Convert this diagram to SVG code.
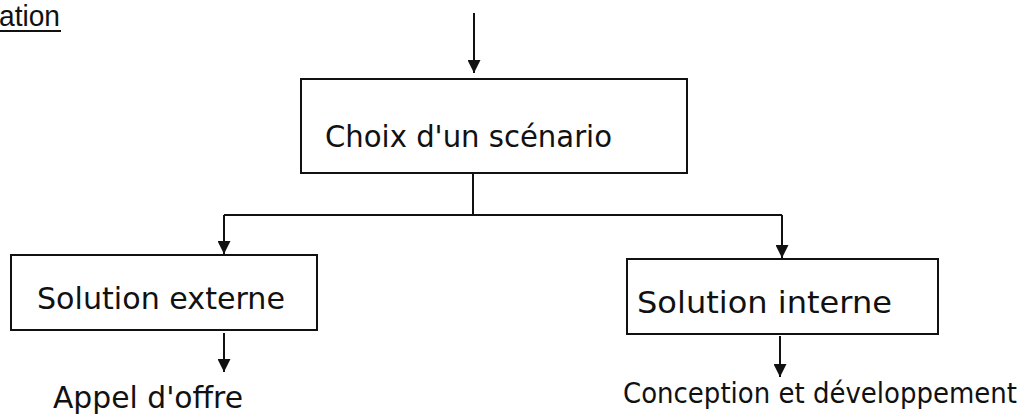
<svg xmlns="http://www.w3.org/2000/svg" width="1025" height="419" viewBox="0 0 1025 419">
<defs>
<style>
.box{fill:#fff;stroke:#111;stroke-width:2}
.lbl{font-family:"Comic Sans MS","DejaVu Sans","Noto Sans",sans-serif;font-size:30px;fill:#111}
.cond{font-family:"DejaVu Sans Condensed","DejaVu Sans",sans-serif;font-stretch:condensed;font-size:28px}
.conn{fill:none;stroke:#111;stroke-width:2}
.title{font-family:"Liberation Sans",Arial,sans-serif;font-size:29px;fill:#111}
</style>
<marker id="arr" viewBox="0 0 12 12" refX="12" refY="6" markerWidth="13" markerHeight="13" markerUnits="userSpaceOnUse" orient="auto">
<path d="M0,0 L12,6 L0,12 Z" fill="#111"/>
</marker>
</defs>
<rect width="1025" height="419" fill="#fff"/>
<g id="title">
<text class="title" x="-1" y="26" textLength="61" lengthAdjust="spacingAndGlyphs">ation</text>
<line x1="0" y1="31" x2="61" y2="31" stroke="#111" stroke-width="2"/>
</g>
<g id="connectors">
<line class="conn" x1="474" y1="13" x2="474" y2="73" marker-end="url(#arr)"/>
<line class="conn" x1="473" y1="174" x2="473" y2="215"/>
<path class="conn" d="M224,215 H782"/>
<line class="conn" x1="224" y1="215" x2="224" y2="254" marker-end="url(#arr)"/>
<line class="conn" x1="782" y1="215" x2="782" y2="258" marker-end="url(#arr)"/>
<line class="conn" x1="224" y1="333" x2="224" y2="372" marker-end="url(#arr)"/>
<line class="conn" x1="780" y1="336" x2="780" y2="377" marker-end="url(#arr)"/>
</g>
<g id="choix">
<rect class="box" x="301" y="79" width="386" height="94"/>
<text class="lbl" x="325" y="147" textLength="287" lengthAdjust="spacingAndGlyphs">Choix d'un scénario</text>
</g>
<g id="externe">
<rect class="box" x="11" y="255" width="306" height="75"/>
<text class="lbl" x="37" y="309" textLength="248" lengthAdjust="spacingAndGlyphs">Solution externe</text>
</g>
<g id="interne">
<rect class="box" x="627" y="259" width="311" height="75"/>
<text class="lbl" x="637" y="313" textLength="255" lengthAdjust="spacingAndGlyphs">Solution interne</text>
</g>
<g id="appel">
<text class="lbl" x="53" y="408" textLength="190" lengthAdjust="spacingAndGlyphs">Appel d'offre</text>
</g>
<g id="conception">
<text class="lbl cond" x="623" y="403" textLength="394" lengthAdjust="spacingAndGlyphs">Conception et développement</text>
</g>
</svg>
